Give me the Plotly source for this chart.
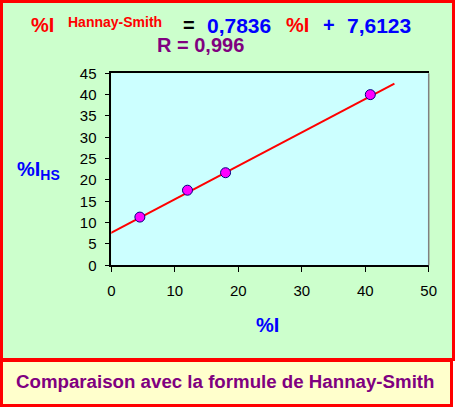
import plotly.graph_objects as go

# Data
pct_I = [4.5, 12.0, 18.0, 40.8]
pct_I_HS = [11.3, 17.6, 21.7, 40.0]
trend_x = [-0.6, 44.6]
trend_y = [7.14, 42.56]
x_ticks = [0, 10, 20, 30, 40, 50]
y_ticks = [0, 5, 10, 15, 20, 25, 30, 35, 40, 45]

W, H = 455, 408
x0, x1 = 111.3, 428.7
yt, yb = 73.3, 265.3

def px(x):
    return x / W

def py(y):
    return 1 - y / H

fig = go.Figure()
fig.add_trace(go.Scatter(x=trend_x, y=trend_y, mode="lines",
                         line=dict(color="#FF0000", width=2), hoverinfo="skip"))
fig.add_trace(go.Scatter(x=pct_I, y=pct_I_HS, mode="markers",
                         marker=dict(color="#FF00FF", size=10,
                                     line=dict(color="#000080", width=1))))

font = "Liberation Sans, Arial, sans-serif"
shapes = [
    dict(type="rect", xref="paper", yref="paper", x0=px(1.5), x1=px(453.5),
         y0=py(359.5), y1=py(1.5), fillcolor="#CCFFCC",
         line=dict(color="#FF0000", width=3), layer="below"),
    dict(type="rect", xref="paper", yref="paper", x0=px(1.5), x1=px(451.5),
         y0=py(405.5), y1=py(360.5), fillcolor="#FFFFCC",
         line=dict(color="#FF0000", width=3), layer="below"),
    dict(type="rect", xref="x domain", yref="y domain", x0=0, x1=1, y0=0, y1=1,
         fillcolor="#CCFFFF", line=dict(width=0), layer="below"),
    dict(type="line", xref="paper", yref="paper", x0=px(x1), x1=px(x1),
         y0=py(yb), y1=py(yt), line=dict(color="#808080", width=1.5)),
]

def ann(text, x, y, color, size, anchor="left"):
    return dict(text=text, x=px(x), y=py(y), xref="paper", yref="paper",
                xanchor=anchor, yanchor="middle", showarrow=False,
                font=dict(family=font, size=size, color=color))

annotations = [
    ann("<b>%I</b>", 29, 25, "#FF0000", 20),
    ann("<b>Hannay-Smith</b>", 66, 22, "#FF0000", 14),
    ann("<b>=</b>", 181, 25, "#000000", 20),
    ann("<b>0,7836</b>", 205, 25, "#0000FF", 21),
    ann("<b>%I</b>", 284, 25, "#FF0000", 20),
    ann("<b>+</b>", 321, 25, "#0000FF", 20),
    ann("<b>7,6123</b>", 345, 25, "#0000FF", 21),
    ann("<b>R = 0,996</b>", 155, 45, "#800080", 20),
    ann("<b>%I<sub>HS</sub></b>", 15, 170, "#0000FF", 20),
    ann("<b>%I</b>", 267, 325, "#0000FF", 20, "center"),
    ann("<b>Comparaison avec la formule de Hannay-Smith</b>", 225, 381,
        "#800080", 18.7, "center"),
]

fig.update_layout(
    width=W, height=H, margin=dict(l=0, r=0, t=0, b=0, pad=0, autoexpand=False),
    paper_bgcolor="#FFFFFF", plot_bgcolor="#CCFFFF",
    showlegend=False, shapes=shapes, annotations=annotations,
    xaxis=dict(domain=[px(x0), px(x1)], range=[0, 50], tickvals=x_ticks,
               showgrid=False, zeroline=False, showline=True, linecolor="#000000",
               linewidth=1.5, mirror=True, ticks="outside", ticklen=5,
               ticklabelstandoff=6,
               tickcolor="#000000", tickfont=dict(family=font, size=15, color="#000000"),
               fixedrange=True),
    yaxis=dict(domain=[py(yb), py(yt)], range=[0, 45], tickvals=y_ticks,
               showgrid=False, zeroline=False, showline=True, linecolor="#000000",
               linewidth=1.5, ticks="outside", ticklen=5, tickcolor="#000000",
               ticklabelstandoff=5,
               tickfont=dict(family=font, size=15, color="#000000"), fixedrange=True),
)

fig.write_html("out.html", config={"displayModeBar": False},
               post_script="document.body.style.margin='0';")
